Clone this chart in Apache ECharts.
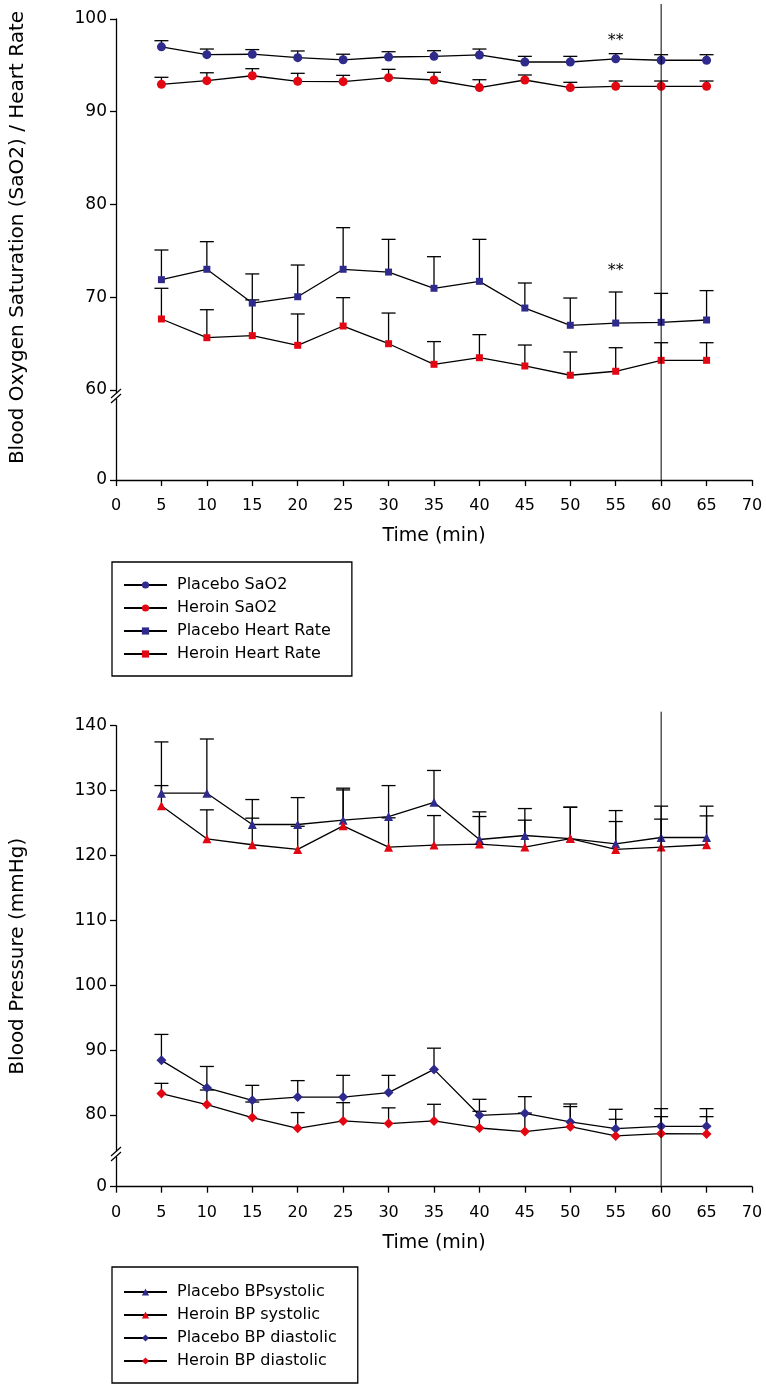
<!DOCTYPE html>
<html><head><meta charset="utf-8">
<script src="https://cdn.jsdelivr.net/npm/echarts@6/dist/echarts.min.js"></script>
<style>html,body{margin:0;padding:0;background:#fff}#c{width:766px;height:1388px}</style>
</head><body><div id="c"></div>
<script>
// ---- data ----
const times = [5,10,15,20,25,30,35,40,45,50,55,60,65];
const xTicks = [0,5,10,15,20,25,30,35,40,45,50,55,60,65,70];

const placeboSaO2     = [97.0,96.15,96.2,95.83,95.6,95.9,95.97,96.12,95.36,95.36,95.7,95.55,95.55];
const placeboSaO2Sem  = [0.66,0.61,0.5,0.72,0.6,0.57,0.61,0.64,0.61,0.61,0.56,0.6,0.6];
const heroinSaO2      = [92.95,93.35,93.88,93.28,93.24,93.67,93.42,92.6,93.42,92.6,92.74,92.74,92.74];
const heroinSaO2Sem   = [0.76,0.85,0.76,0.86,0.68,0.9,0.83,0.85,0.54,0.57,0.57,0.57,0.57];
const placeboHR       = [71.88,73.0,69.36,70.04,73.0,72.7,70.95,71.7,68.82,66.96,67.2,67.28,67.53];
const placeboHRSem    = [3.2,2.98,3.14,3.42,4.49,3.53,3.41,4.53,2.7,2.94,3.35,3.12,3.17];
const heroinHR        = [67.64,65.62,65.84,64.8,66.88,64.97,62.75,63.46,62.57,61.57,62.0,63.18,63.18];
const heroinHRSem     = [3.31,3.02,3.86,3.38,3.06,3.31,2.45,2.49,2.26,2.51,2.54,1.9,1.9];

const placeboSys      = [129.6,129.6,124.77,124.77,125.44,126.0,128.2,122.46,123.08,122.6,121.8,122.77,122.77];
const placeboSysSem   = [7.9,8.35,3.85,4.15,4.93,4.77,4.9,4.26,4.15,4.84,5.12,4.83,4.83];
const heroinSys       = [127.65,122.57,121.65,120.93,124.57,121.28,121.6,121.75,121.3,122.6,120.93,121.3,121.65];
const heroinSysSem    = [3.12,4.46,4.1,3.57,5.53,4.52,4.55,4.25,4.14,4.84,4.3,4.3,4.45];
const placeboDia      = [88.42,84.2,82.26,82.77,82.77,83.45,87.03,79.95,80.26,78.93,77.9,78.26,78.26];
const placeboDiaSem   = [4.0,3.28,2.31,2.53,3.34,2.66,3.27,2.47,2.57,2.77,2.98,2.72,2.72];
const heroinDia       = [83.3,81.6,79.6,77.95,79.08,78.68,79.08,78.0,77.45,78.2,76.77,77.14,77.08];
const heroinDiaSem    = [1.58,2.25,2.4,2.42,2.82,2.42,2.57,2.57,2.85,3.1,2.57,2.61,2.67];

// broken axes: lowest tick shows 0, break just above it
const topYMin = 50.27, topYMax = 100;
const topYTicks = [50.27,60,70,80,90,100];
const topYTickLabels = ['0','60','70','80','90','100'];
const topBreakAt = 59.33;
const botYMin = 68.95, botYMax = 140;
const botYTicks = [68.95,80,90,100,110,120,130,140];
const botYTickLabels = ['0','80','90','100','110','120','130','140'];
const botBreakAt = 74.0;

const refLineX = 60;
const sigMarks = [[55, 97.6], [55, 72.8]];

const topNames = ['Placebo SaO2','Heroin SaO2','Placebo Heart Rate','Heroin Heart Rate'];
const botNames = ['Placebo BPsystolic','Heroin BP systolic','Placebo BP diastolic','Heroin BP diastolic'];

// ---- styling ----
const BLUE = '#2f2b8c', RED = '#e30613', FONT = 'DejaVu Sans';
const chart = echarts.init(document.getElementById('c'), null, {renderer:'canvas'});

function lineSeries(name, vals, g, color, symbol, size) {
  return {
    type:'line', name, xAxisIndex:g, yAxisIndex:g, z:3,
    data: times.map((t,i)=>[t, vals[i]]),
    symbol, symbolSize:size, showSymbol:true,
    itemStyle:{color, borderWidth:0},
    lineStyle:{color:'#000', width:1.3},
    emphasis:{disabled:true}
  };
}
function errSeries(vals, sem, g) {
  return {
    type:'custom', xAxisIndex:g, yAxisIndex:g, z:2, silent:true,
    data: times.map((t,i)=>[t, vals[i], +(vals[i]+sem[i]).toFixed(3)]),
    encode:{x:0, y:[1,2]},
    renderItem(params, api) {
      const p0 = api.coord([api.value(0), api.value(1)]);
      const p1 = api.coord([api.value(0), api.value(2)]);
      const st = {stroke:'#000', lineWidth:1.3};
      return {type:'group', children:[
        {type:'line', shape:{x1:p0[0], y1:p0[1], x2:p1[0], y2:p1[1]}, style:st},
        {type:'line', shape:{x1:p1[0]-7, y1:p1[1], x2:p1[0]+7, y2:p1[1]}, style:st}
      ]};
    }
  };
}
function refLine(g, yMin, yMax, ext) {
  return {
    type:'custom', xAxisIndex:g, yAxisIndex:g, z:5, silent:true, clip:false,
    data:[[refLineX]],
    renderItem(params, api) {
      const a = api.coord([api.value(0), yMax]);
      const b = api.coord([api.value(0), yMin]);
      return {type:'line', shape:{x1:a[0], y1:a[1]-ext, x2:b[0], y2:b[1]}, style:{stroke:'#000', lineWidth:1}};
    }
  };
}
function breakMark(g, at) {
  return {
    type:'custom', xAxisIndex:g, yAxisIndex:g, z:6, silent:true, clip:false,
    data:[[0, at]],
    renderItem(params, api) {
      const p = api.coord([api.value(0), api.value(1)]);
      const st = {stroke:'#000', lineWidth:1.2};
      return {type:'group', children:[
        {type:'rect', shape:{x:p[0]-2, y:p[1]-2.5, width:4, height:5}, style:{fill:'#fff'}},
        {type:'line', shape:{x1:p[0]-5, y1:p[1]-2.5+4.5, x2:p[0]+5, y2:p[1]-2.5-4.5}, style:st},
        {type:'line', shape:{x1:p[0]-5, y1:p[1]+2.5+4.5, x2:p[0]+5, y2:p[1]+2.5-4.5}, style:st}
      ]};
    }
  };
}
const sigSeries = {
  type:'custom', xAxisIndex:0, yAxisIndex:0, z:6, silent:true, clip:false,
  data: sigMarks,
  renderItem(params, api) {
    const p = api.coord([api.value(0), api.value(1)]);
    return {type:'text', x:p[0], y:p[1], style:{text:'**', fontSize:16, fontFamily:FONT, fill:'#000', align:'center', verticalAlign:'middle'}};
  }
};

function xAxisCfg(g) {
  return {
    gridIndex:g, type:'value', min:0, max:70, interval:5,
    axisLine:{show:true, onZero:false, lineStyle:{color:'#000', width:1.3}},
    axisTick:{show:true, length:6, lineStyle:{color:'#000', width:1.3}},
    axisLabel:{fontSize:16, color:'#000', fontFamily:FONT, margin:18},
    splitLine:{show:false},
    name:'Time (min)', nameLocation:'middle', nameGap:47,
    nameTextStyle:{fontSize:19, color:'#000', fontFamily:FONT}
  };
}
function yAxisCfg(g, min, max, ticks, labels, name, shift) {
  return {
    gridIndex:g, type:'value', min, max,
    axisLine:{show:true, onZero:false, lineStyle:{color:'#000', width:1.3}},
    axisTick:{show:true, length:6, customValues:ticks, lineStyle:{color:'#000', width:1.3}},
    axisLabel:{customValues:ticks, fontSize:17, color:'#000', fontFamily:FONT, margin:9,
      formatter:(v)=>{ const i = ticks.findIndex(t=>Math.abs(t-v)<1e-6); return i>=0 ? labels[i] : ''; }},
    splitLine:{show:false},
    name, nameLocation:'middle', nameGap:88, nameRotate:90,
    nameTextStyle:{fontSize:20, color:'#000', fontFamily:FONT, padding:[0,0,0,shift]}
  };
}
function legendCfg(names, top, padTop) {
  return {
    data:names, left:112, top, orient:'vertical', itemWidth:43, itemHeight:9, itemGap:7,
    padding:[padTop,21,14,11], borderColor:'#000', borderWidth:1.3, selectedMode:false,
    textStyle:{fontSize:16, color:'#000', fontFamily:FONT, padding:[0,0,0,5]}
  };
}

chart.setOption({
  animation:false,
  backgroundColor:'#fff',
  textStyle:{fontFamily:FONT},
  grid:[
    {left:112, top:19, width:640, height:461, containLabel:false},
    {left:112, top:725.7, width:640, height:461, containLabel:false}
  ],
  xAxis:[xAxisCfg(0), xAxisCfg(1)],
  yAxis:[
    yAxisCfg(0, topYMin, topYMax, topYTicks, topYTickLabels, 'Blood Oxygen Saturation (SaO2) / Heart Rate', 24),
    yAxisCfg(1, botYMin, botYMax, botYTicks, botYTickLabels, 'Blood Pressure (mmHg)', 0)
  ],
  legend:[legendCfg(topNames, 562, 15), legendCfg(botNames, 1267, 17)],
  series:[
    errSeries(placeboSaO2, placeboSaO2Sem, 0),
    errSeries(heroinSaO2, heroinSaO2Sem, 0),
    errSeries(placeboHR, placeboHRSem, 0),
    errSeries(heroinHR, heroinHRSem, 0),
    lineSeries(topNames[0], placeboSaO2, 0, BLUE, 'circle', 9),
    lineSeries(topNames[1], heroinSaO2, 0, RED, 'circle', 9),
    lineSeries(topNames[2], placeboHR, 0, BLUE, 'rect', 7),
    lineSeries(topNames[3], heroinHR, 0, RED, 'rect', 7),
    refLine(0, topYMin, topYMax, 15),
    breakMark(0, topBreakAt),
    sigSeries,
    errSeries(placeboSys, placeboSysSem, 1),
    errSeries(heroinSys, heroinSysSem, 1),
    errSeries(placeboDia, placeboDiaSem, 1),
    errSeries(heroinDia, heroinDiaSem, 1),
    lineSeries(botNames[0], placeboSys, 1, BLUE, 'triangle', 9),
    lineSeries(botNames[1], heroinSys, 1, RED, 'triangle', 9),
    lineSeries(botNames[2], placeboDia, 1, BLUE, 'diamond', 10),
    lineSeries(botNames[3], heroinDia, 1, RED, 'diamond', 10),
    refLine(1, botYMin, botYMax, 14),
    breakMark(1, botBreakAt)
  ]
});
</script></body></html>
